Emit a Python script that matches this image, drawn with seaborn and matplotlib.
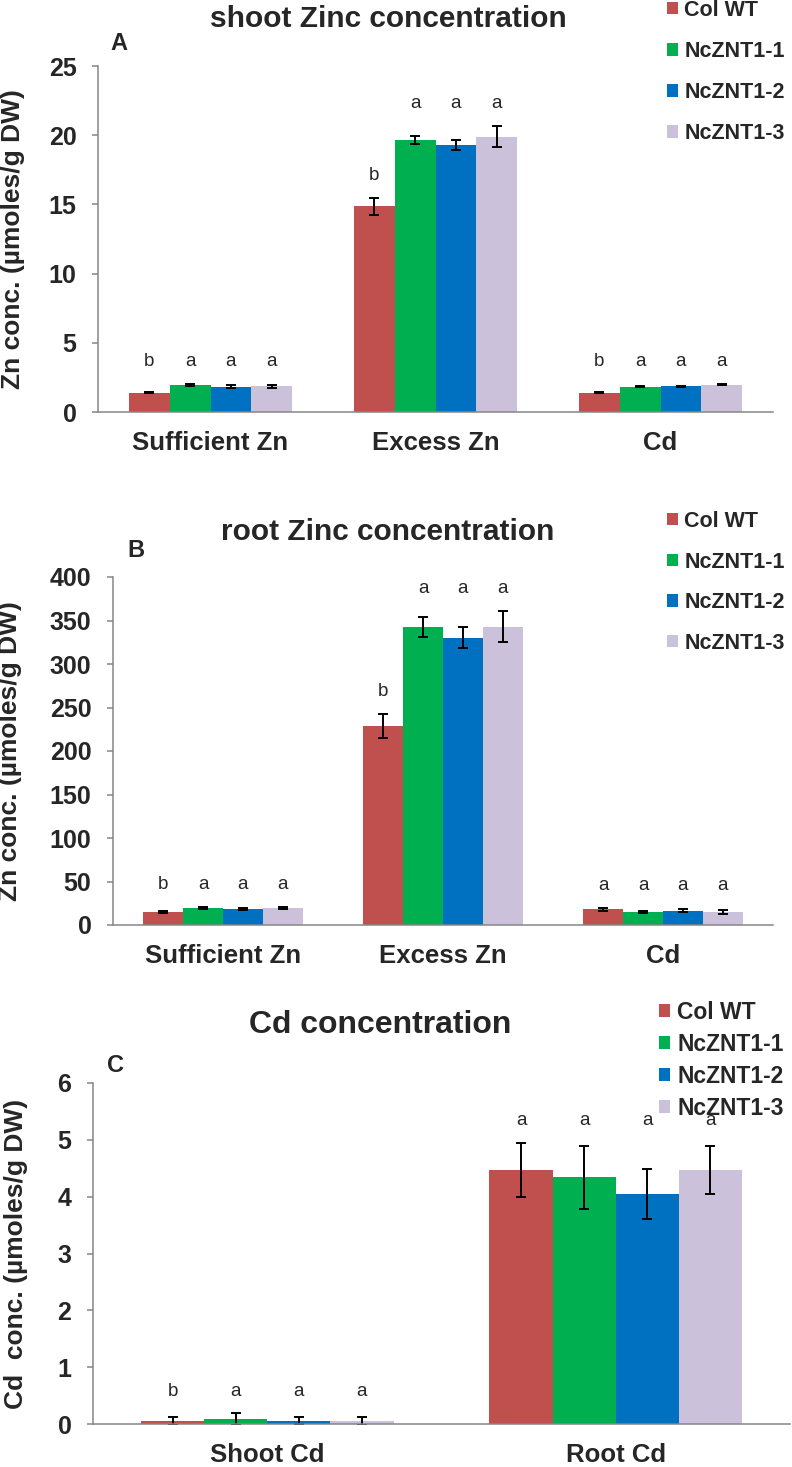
import numpy as np
import pandas as pd
import matplotlib
matplotlib.use('Agg')
import matplotlib.pyplot as plt
import seaborn as sns

# linhas / genotipos
linhas = ['Col WT', 'NcZNT1-1', 'NcZNT1-2', 'NcZNT1-3']
cores = ['#C0504D', '#00B050', '#0070C0', '#CCC1DA']

# A - Zn na parte aerea
condicoes_zn = ['Sufficient Zn', 'Excess Zn', 'Cd']
shoot_zn = [[1.40, 1.93, 1.84, 1.86],
            [14.85, 19.65, 19.30, 19.90],
            [1.40, 1.84, 1.86, 1.98]]
shoot_zn_err = [[0.05, 0.07, 0.08, 0.09],
                [0.60, 0.30, 0.38, 0.75],
                [0.04, 0.06, 0.05, 0.05]]
shoot_zn_sig = [['b', 'a', 'a', 'a'], ['b', 'a', 'a', 'a'], ['b', 'a', 'a', 'a']]

# B - Zn na raiz
root_zn = [[15.3, 19.6, 18.8, 19.6],
           [228.7, 342.5, 330.0, 343.0],
           [18.0, 15.3, 16.5, 15.0]]
root_zn_err = [[1.0, 1.2, 1.2, 1.0],
               [14.0, 12.0, 12.0, 18.0],
               [1.5, 1.2, 1.5, 2.0]]
root_zn_sig = [['b', 'a', 'a', 'a'], ['b', 'a', 'a', 'a'], ['a', 'a', 'a', 'a']]

# C - Cd
tecidos_cd = ['Shoot Cd', 'Root Cd']
cd_conc = [[0.06, 0.09, 0.06, 0.06],
           [4.47, 4.34, 4.04, 4.47]]
cd_err = [[0.07, 0.10, 0.06, 0.07],
          [0.48, 0.56, 0.44, 0.43]]
cd_sig = [['b', 'a', 'a', 'a'], ['a', 'a', 'a', 'a']]

sns.set_style('white')
plt.rcParams['font.family'] = ['Liberation Sans', 'DejaVu Sans']
plt.rcParams['font.weight'] = 'bold'
plt.rcParams['axes.labelweight'] = 'bold'

CINZA = '#868686'
W, H = 792, 1467
fig = plt.figure(figsize=(W / 100, H / 100), dpi=100)


def montar_df(cats, vals, errs):
    rows = []
    for i, c in enumerate(cats):
        for j, l in enumerate(linhas):
            rows.append({'cond': c, 'linha': l, 'valor': vals[i][j], 'erro': errs[i][j]})
    return pd.DataFrame(rows)


def painel(rect, cats, vals, errs, sigs, ymax, ystep, ylabel, ylab_x,
           titulo, tit_xy, tit_fs, letra, letra_xy, leg_xy, leg_fs, leg_spacing):
    ax = fig.add_axes(rect)
    df = montar_df(cats, vals, errs)
    sns.barplot(data=df, x='cond', y='valor', hue='linha', order=cats,
                hue_order=linhas, palette=cores, saturation=1, width=0.725,
                errorbar=None, linewidth=0, ax=ax)

    # barras de erro e letras
    tops = [[vals[i][j] + errs[i][j] for j in range(4)] for i in range(len(cats))]
    pad = 0.065 * ymax
    conts = list(ax.containers)
    for j, cont in enumerate(conts):
        for i, bar in enumerate(cont):
            xc = bar.get_x() + bar.get_width() / 2
            ax.errorbar(xc, bar.get_height(), yerr=errs[i][j], fmt='none',
                        ecolor='black', elinewidth=1.4, capsize=3.6, capthick=1.4)
            gmax = max(tops[i])
            ref = tops[i][j] if gmax - tops[i][j] > 0.1 * ymax else gmax
            ax.text(xc, ref + pad, sigs[i][j], ha='center', va='center',
                    fontsize=13.5, fontweight='normal')

    ax.set_xlim(-0.5, len(cats) - 0.5)
    ax.set_ylim(0, ymax)
    ax.set_yticks(np.arange(0, ymax + ystep / 2, ystep))
    ax.set_xticks(np.arange(-0.5, len(cats), 1), minor=True)
    ax.tick_params(axis='x', which='major', length=0, pad=14, labelsize=18.5)
    ax.tick_params(axis='x', which='minor', length=6, width=1.1, color=CINZA, direction='out')
    ax.tick_params(axis='y', length=4.5, width=1.1, color=CINZA, direction='out',
                   labelsize=18, pad=11, left=True)
    ax.set_xlabel('')
    ax.set_ylabel(ylabel, fontsize=19)
    ax.yaxis.set_label_coords(ylab_x, 0.5)
    sns.despine(ax=ax)
    for s in ['left', 'bottom']:
        ax.spines[s].set_color(CINZA)
        ax.spines[s].set_linewidth(1.1)

    leg = ax.get_legend()
    handles = leg.legend_handles
    labels = [t.get_text() for t in leg.get_texts()]
    leg.remove()
    ax.legend(handles, labels, loc='upper left', bbox_to_anchor=leg_xy,
              bbox_transform=fig.transFigure, frameon=False,
              prop={'weight': 'bold', 'size': leg_fs}, labelspacing=leg_spacing,
              handlelength=0.5, handleheight=0.5, handletextpad=0.3,
              borderpad=0, borderaxespad=0)

    fig.text(tit_xy[0], tit_xy[1], titulo, ha='center', va='center', fontsize=tit_fs)
    fig.text(letra_xy[0], letra_xy[1], letra, ha='center', va='center', fontsize=17)
    return ax


def fr(x0, y0, x1, y1):
    # pixels -> fracao da figura
    return [x0 / W, 1 - y1 / H, (x1 - x0) / W, (y1 - y0) / H]


painel(fr(98, 66, 773, 412), condicoes_zn, shoot_zn, shoot_zn_err, shoot_zn_sig,
       25, 5, 'Zn conc. (µmoles/g DW)', -0.108,
       'shoot Zinc concentration', (388 / W, 1 - 19 / H), 21.5,
       'A', (119 / W, 1 - 43 / H), (667 / W, 1.0), 15.5, 0.93)

painel(fr(113, 577, 773, 925), condicoes_zn, root_zn, root_zn_err, root_zn_sig,
       400, 50, 'Zn conc. (µmoles/g DW)', -0.138,
       'root Zinc concentration', (388 / W, 1 - 532 / H), 21.5,
       'B', (136 / W, 1 - 550 / H), (667 / W, 1 - 511 / H), 15.5, 0.91)

painel(fr(93, 1083, 790, 1424), tecidos_cd, cd_conc, cd_err, cd_sig,
       6, 1, 'Cd  conc. (µmoles/g DW)', -0.093,
       'Cd concentration', (380 / W, 1 - 1025 / H), 23,
       'C', (116 / W, 1 - 1065 / H), (659 / W, 1 - 1001 / H), 16.5, 0.39)

fig.savefig('out.png', dpi=100)
